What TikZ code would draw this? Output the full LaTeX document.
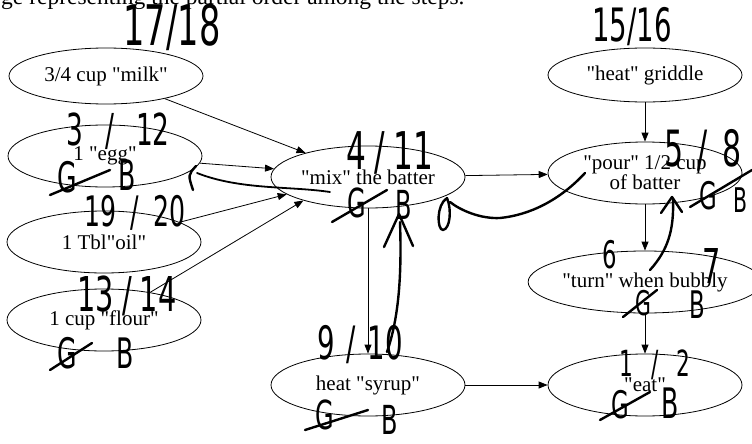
\documentclass[tikz,border=0pt]{standalone}
\usepackage{fontspec}
\setmainfont{Liberation Serif}[Ligatures=TeXOff]
\newfontfamily\handfont[FakeStretch=0.6]{DejaVu Sans}
\usetikzlibrary{shapes.geometric,arrows.meta}

\tikzset{
	stepnode/.style={draw, ellipse, line width=0.8pt, minimum width=194pt, minimum height=62pt, inner sep=0pt, align=center, font=\fontsize{21}{18}\selectfont},
	flow/.style={-{Triangle[length=9pt,width=7pt]}, line width=0.8pt},
	hand/.style={font=\handfont\fontsize{#1}{#1}\selectfont, inner sep=0pt},
	scrawl/.style={line width=2.4pt, line cap=round, line join=round},
}

\begin{document}
\begin{tikzpicture}[x=1pt,y=-1pt]
		\useasboundingbox (0,0) rectangle (752,444);
		
		\node[anchor=base west, inner sep=0pt, font=\fontsize{23.5}{24}\selectfont] (caption) at (1,4.5) {ge representing the partial order among the steps.};
		
		\node[stepnode, minimum height=56pt] (milk) at (106,76) {3/4 cup "milk"};
		\node[stepnode] (egg) at (105,156) {1 "egg"};
		\node[stepnode] (oil) at (104,242) {1 Tbl"oil"};
		\node[stepnode] (flour) at (104,320) {1 cup "flour"};
		\node[stepnode] (mix) at (368,177) {"mix" the batter};
		\node[stepnode] (syrup) at (368,385) {heat "syrup"};
		\node[stepnode, minimum height=54pt] (griddle) at (645,75) {"heat" griddle};
		\node[stepnode] (pour) at (645,173) {"pour" 1/2 cup\\of batter};
		\node[stepnode] (turn) at (645,282) {"turn" when bubbly};
		\node[stepnode] (eat) at (645,385) {"eat"};
		
		\draw[flow] (milk) -- (mix);
		\draw[flow] (egg) -- (mix.175);
		\draw[flow] (oil) -- (mix.192);
		\draw[flow] (flour) -- (mix.200);
		\draw[flow] (mix) -- (pour);
		\draw[flow] (mix) -- (syrup);
		\draw[flow] (syrup) -- (eat);
		\draw[flow] (griddle) -- (pour);
		\draw[flow] (pour) -- (turn);
		\draw[flow] (turn) -- (eat);
		
		% pen marks
		\node[hand=56] (ordmilk) at (172,27) {17/18};
		\node[hand=46] (ordgriddle) at (632,27) {15/16};
		\node[hand=44] (ordegg) at (118,131) {3\hspace{22pt}/\hspace{22pt}12};
		\node[hand=42] (ordoil) at (135,213) {19\hspace{14pt}/\hspace{14pt}20};
		\node[hand=48] (ordflour) at (127,296) {13\hspace{8pt}/\hspace{8pt}14};
		\node[hand=52] (ordmix) at (390,153) {4\hspace{8pt}/\hspace{8pt}11};
		\node[hand=46] (ordsyrup) at (360,345) {9\hspace{12pt}/\hspace{12pt}10};
		\node[hand=50] (ordpour) at (703,150) {5\hspace{14pt}/\hspace{14pt}8};
		\node[hand=36] (ordeat) at (655,365) {1\hspace{18pt}/\hspace{18pt}2};
		\node[hand=38] (ordturn) at (610,255) {6};
		\node[hand=48] (ordturnb) at (712,266) {7};
		
		\node[hand=42] (gegg) at (67,177) {G};
		\node[hand=42] (begg) at (127,175) {B};
		\node[hand=42] (gflour) at (67,353) {G};
		\node[hand=42] (bflour) at (125,353) {B};
		\node[hand=40] (gmix) at (357,203) {G};
		\node[hand=40] (bmix) at (404,205) {B};
		\node[hand=40] (gsyrup) at (325,415) {G};
		\node[hand=40] (bsyrup) at (390,420) {B};
		\node[hand=38] (gpour) at (708,196) {G};
		\node[hand=34] (bpour) at (740,200) {B};
		\node[hand=34] (gturn) at (643,303) {G};
		\node[hand=38] (bturn) at (697,305) {B};
		\node[hand=38] (geat) at (620,405) {G};
		\node[hand=42] (beat) at (670,403) {B};
		
		\draw[scrawl] (50,195) -- (110,170);
		\draw[scrawl] (50,370) -- (92,343);
		\draw[scrawl] (332,222) -- (387,190);
		\draw[scrawl] (305,430) -- (368,410);
		\draw[scrawl] (690,207) -- (752,170);
		\draw[scrawl] (623,317) -- (657,290);
		\draw[scrawl] (600,420) -- (650,392);
		
		\draw[scrawl, line width=1.8pt] (330,192) .. controls (290,186) and (240,190) .. (197,173);
		\draw[scrawl] (196,166) .. controls (188,175) .. (193,190);
		\draw[scrawl] (585,173) .. controls (560,200) and (530,215) .. (500,218) .. controls (480,219) and (460,210) .. (450,202);
		\draw[scrawl] (447,198) .. controls (436,205) and (437,230) .. (443,230) .. controls (450,229) and (452,210) .. (447,198);
		\draw[scrawl] (387,352) .. controls (398,320) and (402,280) .. (400,222);
		\draw[scrawl] (384,247) -- (399,214) -- (413,246);
		\draw[scrawl] (650,270) .. controls (668,250) and (674,230) .. (673,200);
		\draw[scrawl] (661,213) -- (672,197) -- (682,212);
		
	\end{tikzpicture}
\end{document}
